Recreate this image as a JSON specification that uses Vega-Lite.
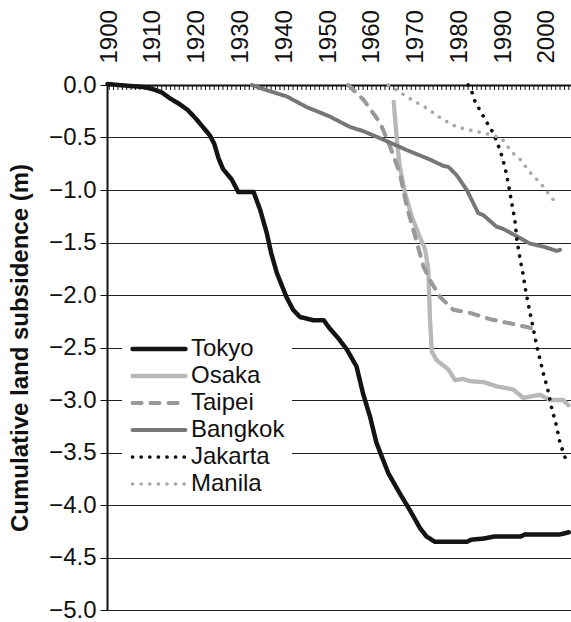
{
  "$schema": "https://vega.github.io/schema/vega-lite/v6.json",
  "width": 464,
  "height": 525,
  "autosize": {"type": "none"},
  "padding": {"left": 107, "top": 85, "right": 0, "bottom": 12},
  "background": "white",
  "config": {"view": {"stroke": null}, "font": "Liberation Sans"},
  "encoding": {
    "x": {
      "field": "year", "type": "quantitative",
      "scale": {"domain": [1899.5, 2005.5], "nice": false, "zero": false},
      "axis": {
        "orient": "top", "title": null,
        "values": [1900, 1910, 1920, 1930, 1940, 1950, 1960, 1970, 1980, 1990, 2000],
        "format": "d",
        "labelAngle": -90, "labelFontSize": 24, "labelColor": "#111",
        "labelPadding": 22, "labelOverlap": false, "labelFlush": false,
        "ticks": false, "tickSize": 0, "grid": false,
        "domainColor": "#111", "domainWidth": 2
      }
    }
  },
  "layer": [
    {
      "data": {"values": [
        {"year": 1900}, {"year": 1901}, {"year": 1902}, {"year": 1903}, {"year": 1904}, {"year": 1905}, {"year": 1906}, {"year": 1907}, {"year": 1908}, {"year": 1909},
        {"year": 1910}, {"year": 1911}, {"year": 1912}, {"year": 1913}, {"year": 1914}, {"year": 1915}, {"year": 1916}, {"year": 1917}, {"year": 1918}, {"year": 1919},
        {"year": 1920}, {"year": 1921}, {"year": 1922}, {"year": 1923}, {"year": 1924}, {"year": 1925}, {"year": 1926}, {"year": 1927}, {"year": 1928}, {"year": 1929},
        {"year": 1930}, {"year": 1931}, {"year": 1932}, {"year": 1933}, {"year": 1934}, {"year": 1935}, {"year": 1936}, {"year": 1937}, {"year": 1938}, {"year": 1939},
        {"year": 1940}, {"year": 1941}, {"year": 1942}, {"year": 1943}, {"year": 1944}, {"year": 1945}, {"year": 1946}, {"year": 1947}, {"year": 1948}, {"year": 1949},
        {"year": 1950}, {"year": 1951}, {"year": 1952}, {"year": 1953}, {"year": 1954}, {"year": 1955}, {"year": 1956}, {"year": 1957}, {"year": 1958}, {"year": 1959},
        {"year": 1960}, {"year": 1961}, {"year": 1962}, {"year": 1963}, {"year": 1964}, {"year": 1965}, {"year": 1966}, {"year": 1967}, {"year": 1968}, {"year": 1969},
        {"year": 1970}, {"year": 1971}, {"year": 1972}, {"year": 1973}, {"year": 1974}, {"year": 1975}, {"year": 1976}, {"year": 1977}, {"year": 1978}, {"year": 1979},
        {"year": 1980}, {"year": 1981}, {"year": 1982}, {"year": 1983}, {"year": 1984}, {"year": 1985}, {"year": 1986}, {"year": 1987}, {"year": 1988}, {"year": 1989},
        {"year": 1990}, {"year": 1991}, {"year": 1992}, {"year": 1993}, {"year": 1994}, {"year": 1995}, {"year": 1996}, {"year": 1997}, {"year": 1998}, {"year": 1999},
        {"year": 2000}, {"year": 2001}, {"year": 2002}, {"year": 2003}, {"year": 2004}, {"year": 2005}
      ]},
      "mark": {"type": "tick", "orient": "vertical", "size": 5, "thickness": 1, "color": "#111", "yOffset": 2.5, "opacity": 1},
      "encoding": {
        "y": {
          "datum": 0, "type": "quantitative",
          "scale": {"domain": [-5, 0], "nice": false},
          "axis": {
            "title": "Cumulative land subsidence (m)",
            "values": [0, -0.5, -1, -1.5, -2, -2.5, -3, -3.5, -4, -4.5, -5],
            "format": ".1f", "grid": true, "gridColor": "#222", "gridWidth": 1,
            "tickSize": 7, "tickColor": "#111", "tickWidth": 1,
            "domainColor": "#111", "domainWidth": 2,
            "labelFontSize": 24, "labelColor": "#111", "labelPadding": 4,
            "titleFontSize": 24, "titleFontWeight": "bold", "titleColor": "#111", "titlePadding": 16
          }
        }
      }
    },
    {
      "data": {"values": [
        {"city": "Tokyo", "year": 1899.6, "v": 0.01},
        {"city": "Tokyo", "year": 1902, "v": 0.0},
        {"city": "Tokyo", "year": 1905, "v": -0.01},
        {"city": "Tokyo", "year": 1908, "v": -0.02},
        {"city": "Tokyo", "year": 1910, "v": -0.04},
        {"city": "Tokyo", "year": 1912, "v": -0.07},
        {"city": "Tokyo", "year": 1914, "v": -0.13},
        {"city": "Tokyo", "year": 1916, "v": -0.18},
        {"city": "Tokyo", "year": 1918, "v": -0.24},
        {"city": "Tokyo", "year": 1920, "v": -0.33},
        {"city": "Tokyo", "year": 1922, "v": -0.43},
        {"city": "Tokyo", "year": 1923, "v": -0.48},
        {"city": "Tokyo", "year": 1924, "v": -0.56},
        {"city": "Tokyo", "year": 1925, "v": -0.7},
        {"city": "Tokyo", "year": 1926, "v": -0.8},
        {"city": "Tokyo", "year": 1928, "v": -0.9},
        {"city": "Tokyo", "year": 1929.5, "v": -1.02},
        {"city": "Tokyo", "year": 1933, "v": -1.02},
        {"city": "Tokyo", "year": 1934.5, "v": -1.19},
        {"city": "Tokyo", "year": 1936, "v": -1.41},
        {"city": "Tokyo", "year": 1937, "v": -1.6},
        {"city": "Tokyo", "year": 1938.3, "v": -1.79},
        {"city": "Tokyo", "year": 1940.5, "v": -2.02},
        {"city": "Tokyo", "year": 1942, "v": -2.14},
        {"city": "Tokyo", "year": 1943.6, "v": -2.21},
        {"city": "Tokyo", "year": 1946.6, "v": -2.24},
        {"city": "Tokyo", "year": 1949, "v": -2.24},
        {"city": "Tokyo", "year": 1950.4, "v": -2.32},
        {"city": "Tokyo", "year": 1952.5, "v": -2.42},
        {"city": "Tokyo", "year": 1954.3, "v": -2.52},
        {"city": "Tokyo", "year": 1956.5, "v": -2.68},
        {"city": "Tokyo", "year": 1958, "v": -2.94},
        {"city": "Tokyo", "year": 1959.6, "v": -3.16},
        {"city": "Tokyo", "year": 1961, "v": -3.4},
        {"city": "Tokyo", "year": 1962, "v": -3.51},
        {"city": "Tokyo", "year": 1963.8, "v": -3.7},
        {"city": "Tokyo", "year": 1966.4, "v": -3.89},
        {"city": "Tokyo", "year": 1968.7, "v": -4.05},
        {"city": "Tokyo", "year": 1971, "v": -4.22},
        {"city": "Tokyo", "year": 1972.5, "v": -4.3},
        {"city": "Tokyo", "year": 1974.4, "v": -4.35},
        {"city": "Tokyo", "year": 1981.7, "v": -4.35},
        {"city": "Tokyo", "year": 1982.8, "v": -4.33},
        {"city": "Tokyo", "year": 1985.5, "v": -4.32},
        {"city": "Tokyo", "year": 1988, "v": -4.3},
        {"city": "Tokyo", "year": 1994, "v": -4.3},
        {"city": "Tokyo", "year": 1995, "v": -4.28},
        {"city": "Tokyo", "year": 2003, "v": -4.28},
        {"city": "Tokyo", "year": 2005, "v": -4.26},
        {"city": "Osaka", "year": 1965.0, "v": -0.16},
        {"city": "Osaka", "year": 1965.7, "v": -0.52},
        {"city": "Osaka", "year": 1966.4, "v": -0.78},
        {"city": "Osaka", "year": 1967.6, "v": -1.03},
        {"city": "Osaka", "year": 1969.1, "v": -1.25},
        {"city": "Osaka", "year": 1970.6, "v": -1.41},
        {"city": "Osaka", "year": 1972.2, "v": -1.57},
        {"city": "Osaka", "year": 1972.9, "v": -1.76},
        {"city": "Osaka", "year": 1973.3, "v": -2.24},
        {"city": "Osaka", "year": 1973.7, "v": -2.54},
        {"city": "Osaka", "year": 1974.8, "v": -2.62},
        {"city": "Osaka", "year": 1977.5, "v": -2.71},
        {"city": "Osaka", "year": 1979.0, "v": -2.81},
        {"city": "Osaka", "year": 1980.9, "v": -2.8},
        {"city": "Osaka", "year": 1982.4, "v": -2.82},
        {"city": "Osaka", "year": 1985.5, "v": -2.83},
        {"city": "Osaka", "year": 1988.5, "v": -2.87},
        {"city": "Osaka", "year": 1992.3, "v": -2.9},
        {"city": "Osaka", "year": 1994.6, "v": -2.98},
        {"city": "Osaka", "year": 1998.4, "v": -2.95},
        {"city": "Osaka", "year": 2000.7, "v": -3.0},
        {"city": "Osaka", "year": 2003.7, "v": -3.0},
        {"city": "Osaka", "year": 2004.9, "v": -3.05},
        {"city": "Taipei", "year": 1954.6, "v": 0.0},
        {"city": "Taipei", "year": 1958.1, "v": -0.14},
        {"city": "Taipei", "year": 1961.9, "v": -0.36},
        {"city": "Taipei", "year": 1964.2, "v": -0.59},
        {"city": "Taipei", "year": 1966.4, "v": -0.84},
        {"city": "Taipei", "year": 1968.0, "v": -1.16},
        {"city": "Taipei", "year": 1969.5, "v": -1.38},
        {"city": "Taipei", "year": 1971.8, "v": -1.73},
        {"city": "Taipei", "year": 1973.3, "v": -1.86},
        {"city": "Taipei", "year": 1975.6, "v": -2.02},
        {"city": "Taipei", "year": 1978.6, "v": -2.14},
        {"city": "Taipei", "year": 1982.4, "v": -2.17},
        {"city": "Taipei", "year": 1987.0, "v": -2.23},
        {"city": "Taipei", "year": 1991.6, "v": -2.27},
        {"city": "Taipei", "year": 1996.9, "v": -2.32},
        {"city": "Bangkok", "year": 1932.6, "v": 0.0},
        {"city": "Bangkok", "year": 1936.0, "v": -0.05},
        {"city": "Bangkok", "year": 1940.6, "v": -0.11},
        {"city": "Bangkok", "year": 1945.1, "v": -0.21},
        {"city": "Bangkok", "year": 1950.4, "v": -0.3},
        {"city": "Bangkok", "year": 1955.0, "v": -0.4},
        {"city": "Bangkok", "year": 1958.1, "v": -0.44},
        {"city": "Bangkok", "year": 1962.6, "v": -0.52},
        {"city": "Bangkok", "year": 1968.0, "v": -0.62},
        {"city": "Bangkok", "year": 1973.3, "v": -0.71},
        {"city": "Bangkok", "year": 1976.3, "v": -0.77},
        {"city": "Bangkok", "year": 1977.5, "v": -0.78},
        {"city": "Bangkok", "year": 1979.4, "v": -0.86},
        {"city": "Bangkok", "year": 1981.7, "v": -1.0},
        {"city": "Bangkok", "year": 1984.3, "v": -1.22},
        {"city": "Bangkok", "year": 1985.5, "v": -1.24},
        {"city": "Bangkok", "year": 1988.5, "v": -1.35},
        {"city": "Bangkok", "year": 1990.0, "v": -1.37},
        {"city": "Bangkok", "year": 1993.1, "v": -1.44},
        {"city": "Bangkok", "year": 1996.1, "v": -1.51},
        {"city": "Bangkok", "year": 1999.2, "v": -1.54},
        {"city": "Bangkok", "year": 2002.2, "v": -1.58},
        {"city": "Bangkok", "year": 2003.0, "v": -1.57},
        {"city": "Jakarta", "year": 1982.0, "v": 0.0},
        {"city": "Jakarta", "year": 1982.8, "v": -0.06},
        {"city": "Jakarta", "year": 1983.6, "v": -0.16},
        {"city": "Jakarta", "year": 1985.5, "v": -0.3},
        {"city": "Jakarta", "year": 1986.6, "v": -0.38},
        {"city": "Jakarta", "year": 1987.8, "v": -0.46},
        {"city": "Jakarta", "year": 1989.3, "v": -0.62},
        {"city": "Jakarta", "year": 1990.4, "v": -0.78},
        {"city": "Jakarta", "year": 1991.2, "v": -0.94},
        {"city": "Jakarta", "year": 1991.9, "v": -1.11},
        {"city": "Jakarta", "year": 1992.7, "v": -1.29},
        {"city": "Jakarta", "year": 1993.1, "v": -1.46},
        {"city": "Jakarta", "year": 1993.8, "v": -1.64},
        {"city": "Jakarta", "year": 1994.5, "v": -1.79},
        {"city": "Jakarta", "year": 1995.2, "v": -1.97},
        {"city": "Jakarta", "year": 1996.0, "v": -2.14},
        {"city": "Jakarta", "year": 1996.9, "v": -2.32},
        {"city": "Jakarta", "year": 1997.7, "v": -2.49},
        {"city": "Jakarta", "year": 1999.2, "v": -2.75},
        {"city": "Jakarta", "year": 2000.3, "v": -2.92},
        {"city": "Jakarta", "year": 2001.1, "v": -3.08},
        {"city": "Jakarta", "year": 2002.2, "v": -3.25},
        {"city": "Jakarta", "year": 2003.0, "v": -3.41},
        {"city": "Jakarta", "year": 2004.5, "v": -3.59},
        {"city": "Manila", "year": 1963.8, "v": 0.0},
        {"city": "Manila", "year": 1968.7, "v": -0.13},
        {"city": "Manila", "year": 1972.5, "v": -0.22},
        {"city": "Manila", "year": 1975.9, "v": -0.32},
        {"city": "Manila", "year": 1979.4, "v": -0.4},
        {"city": "Manila", "year": 1983.6, "v": -0.44},
        {"city": "Manila", "year": 1987.8, "v": -0.48},
        {"city": "Manila", "year": 1989.7, "v": -0.51},
        {"city": "Manila", "year": 1992.0, "v": -0.64},
        {"city": "Manila", "year": 1993.9, "v": -0.71},
        {"city": "Manila", "year": 1996.1, "v": -0.83},
        {"city": "Manila", "year": 1997.7, "v": -0.9},
        {"city": "Manila", "year": 1999.2, "v": -0.97},
        {"city": "Manila", "year": 2000.3, "v": -1.03},
        {"city": "Manila", "year": 2001.6, "v": -1.1}
      ]},
      "mark": {"type": "line", "strokeCap": "round", "strokeJoin": "round"},
      "encoding": {
        "y": {
          "field": "v", "type": "quantitative",
          "scale": {"domain": [-5, 0], "nice": false},
          "axis": {
            "title": "Cumulative land subsidence (m)",
            "values": [0, -0.5, -1, -1.5, -2, -2.5, -3, -3.5, -4, -4.5, -5],
            "format": ".1f", "grid": true, "gridColor": "#222", "gridWidth": 1,
            "tickSize": 7, "tickColor": "#111", "tickWidth": 1,
            "domainColor": "#111", "domainWidth": 2,
            "labelFontSize": 24, "labelColor": "#111", "labelPadding": 4,
            "titleFontSize": 24, "titleFontWeight": "bold", "titleColor": "#111", "titlePadding": 16
          }
        },
        "color": {
          "field": "city", "type": "nominal",
          "scale": {"domain": ["Tokyo", "Osaka", "Taipei", "Bangkok", "Jakarta", "Manila"],
                    "range": ["#141414", "#b8b8b8", "#999999", "#777777", "#111111", "#a8a8a8"]},
          "legend": {
            "orient": "none", "legendX": 15, "legendY": 245, "fillColor": "white",
            "padding": 7, "title": null, "labelFontSize": 24, "labelColor": "#111",
            "symbolType": "M-5,0H5", "symbolSize": 112, "symbolOffset": 18,
            "labelOffset": 20, "rowPadding": 3,
            "encode": {"symbols": {"update": {"strokeCap": {"value": "round"}}}}
          }
        },
        "strokeDash": {
          "field": "city", "type": "nominal",
          "scale": {"domain": ["Tokyo", "Osaka", "Taipei", "Bangkok", "Jakarta", "Manila"],
                    "range": [[1, 0], [1, 0], [9, 9], [1, 0], [0.1, 8.5], [0.1, 8.5]]}
        },
        "strokeWidth": {
          "field": "city", "type": "nominal",
          "scale": {"domain": ["Tokyo", "Osaka", "Taipei", "Bangkok", "Jakarta", "Manila"],
                    "range": [4.5, 3.5, 3.5, 4, 3.5, 3.5]}
        }
      }
    }
  ]
}
